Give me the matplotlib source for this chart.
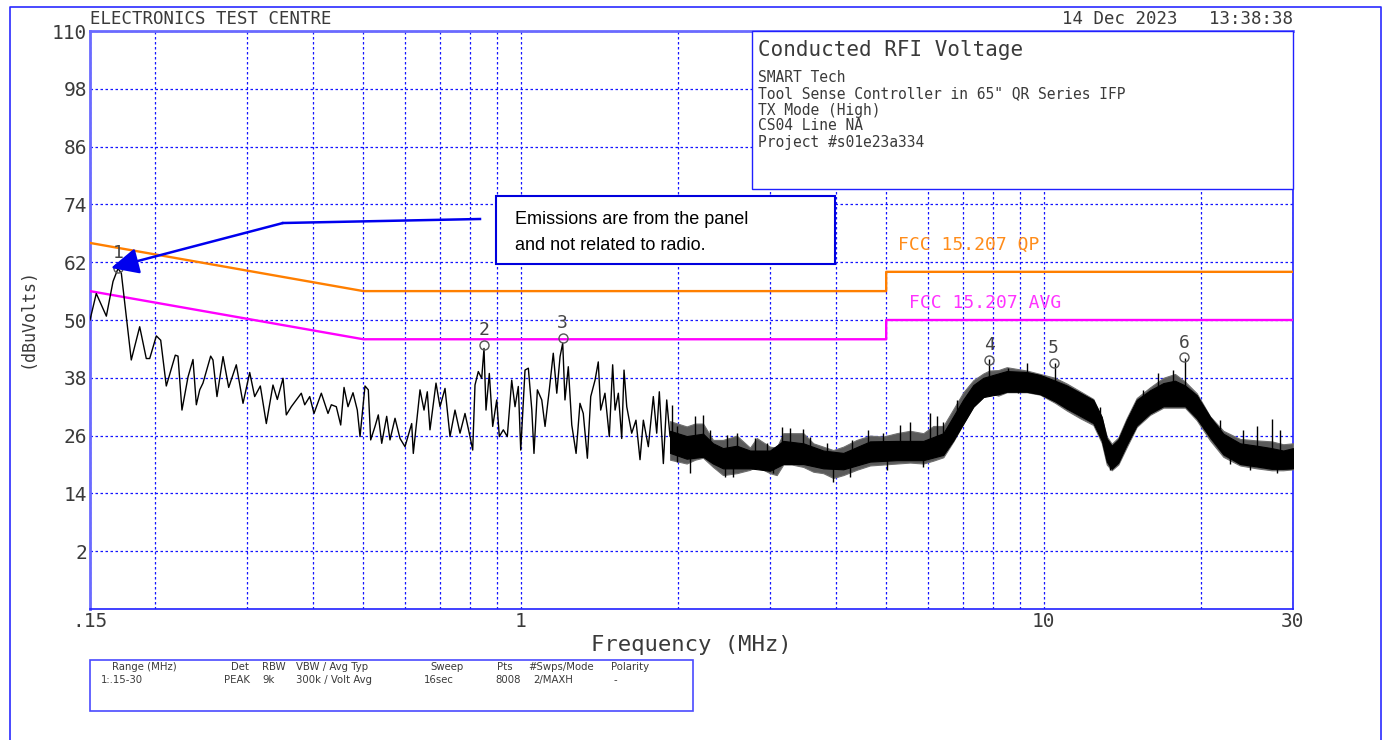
import matplotlib
matplotlib.use('Agg')
import matplotlib.pyplot as plt
from matplotlib.patches import Rectangle, FancyArrowPatch
from matplotlib.lines import Line2D

# ---------------- data ----------------
# measured trace (peak detector), low-frequency part (MHz, dBuV)
trace_freq = [0.150, 0.1542, 0.1612, 0.1660, 0.1697, 0.1722, 0.1799, 0.1867, 0.1922, 0.1951,
              0.2009, 0.2048, 0.2099, 0.2184, 0.2210, 0.2249, 0.2310, 0.2361, 0.2396, 0.2432,
              0.2467, 0.2552, 0.2578, 0.2624, 0.2695, 0.2763, 0.2857, 0.2943, 0.3031, 0.3098,
              0.3176, 0.3261, 0.3358, 0.3423, 0.3510, 0.3561, 0.3640, 0.3804, 0.3862, 0.3948,
              0.4023, 0.4155, 0.4279, 0.4342, 0.4438, 0.4525, 0.4592, 0.4673, 0.4777, 0.4868,
              0.4927, 0.5036, 0.5110, 0.5164, 0.5263, 0.5340, 0.5421, 0.5541, 0.5622, 0.5748,
              0.5876, 0.6006, 0.6186, 0.6230, 0.6417, 0.6531, 0.6626, 0.6705, 0.6885, 0.7008,
              0.7164, 0.7323, 0.7486, 0.7653, 0.7823, 0.7997, 0.8093, 0.8175, 0.8295, 0.8420,
              0.8506, 0.8581, 0.8707, 0.8838, 0.8996, 0.9099, 0.9261, 0.9425, 0.9610, 0.9751,
              0.9893, 0.9999, 1.019, 1.034, 1.050, 1.060, 1.076, 1.097, 1.113, 1.134,
              1.154, 1.172, 1.189, 1.203, 1.215, 1.233, 1.252, 1.276, 1.298, 1.317,
              1.341, 1.361, 1.387, 1.407, 1.422, 1.449, 1.477, 1.499, 1.515, 1.537,
              1.560, 1.576, 1.595, 1.630, 1.661, 1.691, 1.716, 1.754, 1.793, 1.820,
              1.841, 1.874, 1.902, 1.930, 1.964, 2.002]
trace_db = [50.0, 55.5, 50.8, 58.0, 60.7, 59.7, 41.7, 48.6, 42.0, 42.0,
            46.7, 45.8, 36.3, 42.7, 42.5, 31.3, 38.2, 41.8, 32.4, 35.5,
            36.9, 42.5, 41.7, 34.1, 42.4, 36.0, 40.7, 32.7, 39.1, 34.1,
            36.3, 28.5, 36.5, 33.5, 37.9, 30.3, 32.0, 34.8, 32.4, 34.1,
            30.6, 34.8, 30.6, 32.4, 32.0, 28.2, 36.0, 32.0, 34.9, 31.3,
            25.8, 36.3, 35.5, 25.1, 27.9, 30.3, 24.4, 30.0, 25.1, 29.6,
            25.4, 23.7, 28.5, 22.3, 35.5, 31.3, 35.1, 27.2, 36.9, 32.0,
            35.8, 25.8, 31.3, 26.5, 30.6, 25.8, 23.0, 36.5, 39.3, 37.9,
            44.1, 31.3, 38.9, 27.9, 33.4, 25.8, 27.2, 25.8, 37.5, 32.0,
            36.2, 23.0, 39.6, 40.0, 31.3, 22.3, 35.5, 33.4, 27.9, 35.5,
            43.1, 34.8, 42.4, 45.2, 33.4, 40.3, 28.2, 22.3, 32.7, 30.6,
            21.3, 34.1, 37.5, 41.3, 31.3, 34.8, 25.8, 40.7, 31.3, 34.8,
            25.4, 39.6, 32.0, 26.5, 29.2, 21.0, 29.2, 23.7, 34.1, 26.5,
            35.1, 20.2, 33.4, 25.8, 27.9, 24.4]

# dense part above ~1.9 MHz: outer (sparse) extent of the noise band (MHz, dBuV)
halo_freq = [1.930, 2.077, 2.155, 2.232, 2.332, 2.437, 2.589, 2.745, 2.827, 2.997,
             3.087, 3.178, 3.298, 3.471, 3.627, 3.790, 3.961, 4.140, 4.391, 4.656,
             4.937, 5.237, 5.554, 5.889, 6.154, 6.431, 6.721, 7.024, 7.340, 7.671,
             7.877, 8.195, 8.504, 9.286, 9.847, 10.52, 11.08, 11.75, 12.45, 12.92,
             13.21, 13.50, 13.90, 14.42, 15.07, 15.98, 16.95, 17.84, 18.65, 19.63,
             20.82, 22.07, 23.76, 25.57, 27.31, 28.74, 30.0]
halo_hi = [29.0, 27.9, 28.5, 28.5, 25.1, 25.1, 26.0, 23.5, 25.5, 23.7,
           23.5, 26.5, 26.5, 26.5, 24.4, 23.7, 23.0, 23.7, 25.1, 26.0,
           25.8, 26.5, 27.0, 26.5, 28.0, 28.0, 31.5, 35.0, 37.5, 38.9,
           39.5, 39.6, 40.2, 39.5, 38.8, 38.0, 36.8, 35.2, 33.6, 29.8,
           25.8, 24.3, 25.6, 29.6, 33.8, 36.0, 38.0, 38.8, 37.2, 34.8,
           30.0, 27.0, 25.3, 25.0, 24.8, 24.2, 24.4]
halo_lo = [21.0, 20.2, 21.0, 21.4, 19.5, 17.8, 18.2, 18.9, 19.6, 18.2,
           17.8, 20.0, 20.0, 19.5, 18.5, 18.2, 17.2, 17.8, 18.9, 19.8,
           20.0, 20.2, 20.4, 20.2, 20.8, 21.5, 24.8, 28.5, 32.0, 34.0,
           34.8, 34.3, 35.0, 35.0, 34.5, 32.8, 31.2, 29.6, 28.2, 24.5,
           20.0, 18.8, 20.0, 23.6, 27.8, 30.3, 31.8, 31.8, 31.8, 29.2,
           25.0, 21.6, 19.8, 19.2, 18.8, 18.8, 19.0]

# solid core of the noise band (MHz, dBuV)
core_freq = [1.930, 2.077, 2.232, 2.332, 2.437, 2.589, 2.745, 2.997, 3.178, 3.471,
             3.790, 4.140, 4.656, 5.237, 5.889, 6.431, 6.721, 7.024, 7.340, 7.671,
             8.195, 8.504, 9.286, 9.847, 10.52, 11.08, 11.75, 12.45, 12.92, 13.21,
             13.50, 13.90, 14.42, 15.07, 15.98, 16.95, 17.84, 18.65, 19.63, 20.82,
             22.07, 23.76, 25.57, 27.31, 28.74, 30.0]
core_lo = [22.4, 21.2, 21.6, 20.2, 19.2, 19.2, 19.2, 18.7, 20.1, 20.1,
           19.2, 19.0, 20.6, 20.9, 20.9, 22.0, 25.0, 28.5, 32.0, 34.0,
           34.6, 35.1, 35.1, 34.6, 33.1, 31.6, 30.1, 28.6, 25.0, 20.6,
           19.1, 20.4, 24.1, 28.1, 30.6, 32.1, 32.1, 32.1, 29.6, 25.6,
           22.1, 20.1, 19.6, 19.1, 19.1, 19.2]
core_hi = [27.0, 25.9, 26.4, 24.4, 23.4, 23.9, 22.9, 22.9, 24.9, 24.4,
           22.9, 22.4, 24.8, 24.9, 24.9, 26.5, 30.0, 33.5, 36.5, 38.0,
           38.9, 39.4, 39.2, 38.6, 37.4, 36.4, 34.9, 33.4, 29.9, 25.4,
           23.9, 25.2, 29.2, 33.4, 35.4, 36.9, 37.4, 36.4, 34.4, 29.9,
           26.4, 24.4, 23.9, 23.4, 22.9, 23.4]

# individual spikes reaching out of the band (MHz, from dBuV, to dBuV)
spike_freq = [1.944, 1.988, 2.108, 2.155, 2.235, 2.302, 2.459, 2.478, 2.550, 2.589,
              2.806, 2.954, 3.042, 3.156, 3.273, 3.471, 3.576, 3.848, 3.961, 4.265,
              4.297, 4.621, 4.937, 5.011, 5.310, 5.554, 5.889, 6.068, 6.249, 6.431,
              6.822, 7.877, 8.563, 8.949, 9.286, 10.52, 11.66, 12.82, 13.40, 15.52,
              16.57, 17.71, 18.65, 18.79, 19.34, 21.75, 22.73, 24.10, 24.83, 25.57,
              27.31, 27.92, 28.33]
spike_lo = [24.0, 20.6, 18.2, 23.0, 23.0, 22.0, 17.5, 21.0, 17.5, 21.0,
            20.5, 20.5, 18.2, 22.0, 22.0, 22.0, 21.5, 20.5, 16.4, 17.5,
            20.5, 22.0, 22.0, 18.9, 22.5, 22.5, 19.5, 23.0, 23.5, 24.0,
            27.0, 36.0, 37.0, 34.8, 37.0, 35.0, 32.5, 28.0, 18.9, 32.0,
            34.0, 34.5, 34.0, 32.0, 32.0, 25.0, 20.2, 22.0, 18.9, 21.5,
            21.0, 18.2, 21.0]
spike_hi = [32.4, 27.9, 24.0, 30.0, 30.3, 27.2, 21.5, 26.1, 21.5, 26.5,
            25.4, 24.4, 21.0, 27.7, 27.5, 27.3, 25.8, 24.4, 20.5, 20.5,
            25.1, 27.2, 26.5, 22.5, 28.2, 28.9, 22.5, 30.6, 30.0, 28.9,
            33.4, 42.0, 40.0, 37.0, 41.0, 41.0, 35.1, 32.0, 21.5, 35.5,
            38.9, 39.6, 42.1, 34.0, 34.8, 29.2, 23.0, 27.2, 21.0, 27.9,
            29.4, 20.5, 27.2]

# FCC 15.207 limits
qp_freq = [0.15, 0.5, 5.0, 5.0, 30.0]
qp_db = [66.0, 56.0, 56.0, 60.0, 60.0]
avg_freq = [0.15, 0.5, 5.0, 5.0, 30.0]
avg_db = [56.0, 46.0, 46.0, 50.0, 50.0]

# markers
marker_ids = ['1', '2', '3', '4', '5', '6']
marker_freq = [0.170, 0.850, 1.203, 7.88, 10.45, 18.60]
marker_db = [60.8, 44.8, 46.3, 41.7, 41.1, 42.3]

# axes ticks
y_ticks = [2, 14, 26, 38, 50, 62, 74, 86, 98, 110]
x_ticks = [0.15, 1, 10, 30]
x_tick_labels = ['.15', '1', '10', '30']
x_minor = [0.2, 0.3, 0.4, 0.5, 0.6, 0.7, 0.8, 0.9, 2, 3, 4, 5, 6, 7, 8, 9, 20]

info_title = 'Conducted RFI Voltage'
info_lines = ['SMART Tech', 'Tool Sense Controller in 65" QR Series IFP', 'TX Mode (High)',
              'CS04 Line NA', 'Project #s01e23a334']
table_headers = ['Range (MHz)', 'Det', 'RBW', 'VBW / Avg Typ', 'Sweep', 'Pts', '#Swps/Mode', 'Polarity']
table_values = ['1:.15-30', 'PEAK', '9k', '300k / Volt Avg', '16sec', '8008', '2/MAXH', '-']

# ---------------- figure ----------------
W, H = 1384, 740
fig = plt.figure(figsize=(W / 100, H / 100), dpi=100)
fig.patch.set_facecolor('white')


def fx(x):
    return x / W


def fy(y):
    return 1 - y / H


MONO = 'DejaVu Sans Mono'
TXT = '#3a3a3a'
BLUE = '#1414ff'

ax = fig.add_axes([fx(90), fy(609), fx(1293) - fx(90), fy(31) - fy(609)])
ax.set_xscale('log')
ax.set_xlim(0.15, 30)
ax.set_ylim(-10, 110)
ax.set_xticks(x_ticks)
ax.set_xticklabels(x_tick_labels)
ax.set_xticks(x_minor, minor=True)
ax.set_xticklabels([], minor=True)
ax.set_yticks(y_ticks)
ax.set_yticklabels([str(v) for v in y_ticks])
ax.tick_params(which='both', length=0)
ax.tick_params(axis='y', pad=2, labelsize=14, labelcolor=TXT)
ax.tick_params(axis='x', pad=2, labelsize=14, labelcolor=TXT)
for lab in ax.get_xticklabels() + ax.get_yticklabels():
    lab.set_fontfamily(MONO)
ax.grid(True, which='both', color=BLUE, linestyle=(0, (2, 2)), linewidth=0.9)
ax.set_axisbelow(True)
for side in ['left', 'top']:
    ax.spines[side].set_color('#6a6aff')
    ax.spines[side].set_linewidth(2)
for side in ['right', 'bottom']:
    ax.spines[side].set_color('#2020ff')
    ax.spines[side].set_linewidth(1.2)

# limit lines
ax.plot(qp_freq, qp_db, color='#ff7f00', lw=1.7, zorder=3)
ax.plot(avg_freq, avg_db, color='#ff00ff', lw=1.7, zorder=3)
ax.text(5.27, 65.6, 'FCC 15.207 QP', color='#ff8c1a', fontsize=13, family=MONO, va='center', ha='left')
ax.text(5.53, 53.5, 'FCC 15.207 AVG', color='#ff33ff', fontsize=13, family=MONO, va='center', ha='left')

# trace
ax.plot(trace_freq, trace_db, color='black', lw=1.0, zorder=4)
ax.fill_between(halo_freq, halo_lo, halo_hi, color='#5a5a5a', lw=0.8, edgecolor='#707070', zorder=4)
ax.fill_between(core_freq, core_lo, core_hi, color='black', lw=0.8, edgecolor='black', zorder=4)
ax.vlines(spike_freq, spike_lo, spike_hi, color='black', lw=1.0, zorder=4)

# markers
ax.plot(marker_freq, marker_db, 'o', mfc='none', mec='#555555', ms=6.5, mew=1.0, zorder=5)
for mid, f, v in zip(marker_ids, marker_freq, marker_db):
    ax.annotate(mid, (f, v), xytext=(0, 4), textcoords='offset points', ha='center', va='bottom',
                fontsize=13, family=MONO, color='#444444', zorder=5)

ax.set_xlabel('Frequency (MHz)', fontsize=16, family=MONO, color=TXT, labelpad=3)

# ---------------- figure-level decorations ----------------
# outer frame
fig.add_artist(Line2D([fx(10), fx(10), fx(1381), fx(1381)], [fy(745), fy(7), fy(7), fy(745)],
                      transform=fig.transFigure, color='#2a2aff', lw=1.2))

fig.text(fx(90), fy(19), 'ELECTRONICS TEST CENTRE', fontsize=12.5, family=MONO, color=TXT, va='center', ha='left')
fig.text(fx(1293), fy(19), '14 Dec 2023   13:38:38', fontsize=12.5, family=MONO, color=TXT, va='center', ha='right')
fig.text(fx(28), fy(318), '(dBuVolts)', fontsize=12, family=MONO, color=TXT, rotation=90, va='center', ha='center')

# info box
fig.add_artist(Rectangle((fx(752), fy(189)), fx(1293) - fx(752), fy(31) - fy(189), transform=fig.transFigure,
                         facecolor='white', edgecolor='#2020ff', lw=1.0, zorder=6))
fig.text(fx(758), fy(50), info_title, fontsize=15, family=MONO, color=TXT, va='center', ha='left', zorder=7)
for i, line in enumerate(info_lines):
    fig.text(fx(758), fy(78 + 16 * i), line, fontsize=10.5, family=MONO, color=TXT, va='center', ha='left', zorder=7)

# annotation box and arrow
fig.add_artist(Rectangle((fx(496), fy(264)), fx(835) - fx(496), fy(196) - fy(264), transform=fig.transFigure,
                         facecolor='white', edgecolor='#0000dd', lw=1.5, zorder=6))
fig.text(fx(515), fy(219), 'Emissions are from the panel', fontsize=13, family='Liberation Sans', color='black',
         va='center', ha='left', zorder=7)
fig.text(fx(515), fy(245), 'and not related to radio.', fontsize=13, family='Liberation Sans', color='black',
         va='center', ha='left', zorder=7)
fig.add_artist(Line2D([fx(480), fx(283)], [fy(219), fy(223)], transform=fig.transFigure, color='#0000ee', lw=1.8,
                      zorder=7))
fig.add_artist(FancyArrowPatch((fx(283), fy(223)), (fx(111), fy(268)), transform=fig.transFigure,
                               arrowstyle='-|>,head_length=0.85,head_width=0.4', mutation_scale=20,
                               color='#0000ee', lw=1.8, shrinkA=0, shrinkB=0, zorder=7))

# settings table
fig.add_artist(Rectangle((fx(90), fy(711)), fx(693) - fx(90), fy(660) - fy(711), transform=fig.transFigure,
                         facecolor='white', edgecolor='#4a4aff', lw=1.2, zorder=6))
header_x = [112, 231, 262, 296, 430, 497, 528, 611]
value_x = [101, 224, 262, 296, 424, 495, 533, 613]
for hx, t in zip(header_x, table_headers):
    fig.text(fx(hx), fy(667), t, fontsize=7.3, family='DejaVu Sans', color=TXT, va='center', ha='left', zorder=7)
for vx, t in zip(value_x, table_values):
    fig.text(fx(vx), fy(680), t, fontsize=7.3, family='DejaVu Sans', color=TXT, va='center', ha='left', zorder=7)

fig.savefig('out.png', dpi=100)
